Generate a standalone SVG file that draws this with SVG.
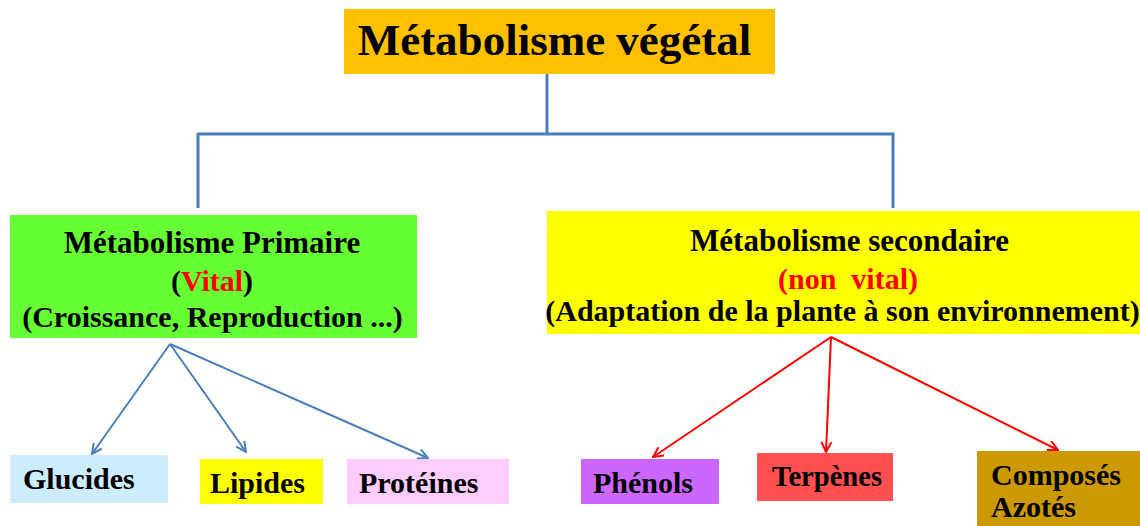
<svg xmlns="http://www.w3.org/2000/svg" width="1140" height="526" viewBox="0 0 1140 526">
<style>
text{font-family:"Liberation Serif","Times New Roman",serif;font-weight:bold;fill:#000}
.t{font-size:45px}
.h{font-size:31px}
.s{font-size:30px}
.b{font-size:30px}
.red{fill:#FF0000}
.tree{fill:none;stroke:#4A7EBB;stroke-width:3}
.ab{fill:none;stroke:#4A7EBB;stroke-width:2}
.ar{fill:none;stroke:#FF0000;stroke-width:2}
</style>
<defs>
<marker id="mb" viewBox="0 0 12 12" refX="11" refY="6" markerWidth="12" markerHeight="12" markerUnits="userSpaceOnUse" orient="auto">
<path d="M1,1 L11,6 L1,11" fill="none" stroke="#4A7EBB" stroke-width="2"/>
</marker>
<marker id="mr" viewBox="0 0 12 12" refX="11" refY="6" markerWidth="12" markerHeight="12" markerUnits="userSpaceOnUse" orient="auto">
<path d="M1,1 L11,6 L1,11" fill="none" stroke="#FF0000" stroke-width="2"/>
</marker>
</defs>
<rect width="1140" height="526" fill="#FFFFFF"/>
<g id="connectors">
<path class="tree" d="M547,72 V134 M198,208 V134 H893 V208"/>
<line class="ab" x1="170" y1="344" x2="92" y2="454" marker-end="url(#mb)"/>
<line class="ab" x1="170" y1="344" x2="246" y2="452" marker-end="url(#mb)"/>
<line class="ab" x1="170" y1="344" x2="428" y2="458" marker-end="url(#mb)"/>
<line class="ar" x1="831" y1="337" x2="653" y2="457" marker-end="url(#mr)"/>
<line class="ar" x1="831" y1="337" x2="826" y2="452" marker-end="url(#mr)"/>
<line class="ar" x1="831" y1="337" x2="1058" y2="450" marker-end="url(#mr)"/>
</g>
<g id="n-title">
<rect x="344" y="9" width="431" height="65" fill="#FFC000"/>
<text class="t" x="554.5" y="55" text-anchor="middle">Métabolisme végétal</text>
</g>
<g id="n-primaire">
<rect x="10" y="215" width="407" height="123" fill="#66FF33"/>
<text class="h" x="212" y="253" text-anchor="middle">Métabolisme Primaire</text>
<text class="s" x="212" y="291" text-anchor="middle">(<tspan class="red">Vital</tspan>)</text>
<text class="s" x="212.5" y="327" text-anchor="middle">(Croissance, Reproduction ...)</text>
</g>
<g id="n-secondaire">
<rect x="547" y="211" width="593" height="123" fill="#FFFF00"/>
<text class="h" x="849.5" y="251" text-anchor="middle">Métabolisme secondaire</text>
<text class="s red" x="848" y="289" text-anchor="middle">(non&#160; vital)</text>
<text class="s" x="842.5" y="321" text-anchor="middle">(Adaptation de la plante à son environnement)</text>
</g>
<g id="n-glucides">
<rect x="10" y="455" width="158" height="48" fill="#CCECFF"/>
<text class="b" x="23" y="489">Glucides</text>
</g>
<g id="n-lipides">
<rect x="200" y="459" width="123" height="45" fill="#FFFF00"/>
<text class="b" x="210" y="493">Lipides</text>
</g>
<g id="n-proteines">
<rect x="347" y="459" width="162" height="45" fill="#FFCCFF"/>
<text class="b" x="359" y="493">Protéines</text>
</g>
<g id="n-phenols">
<rect x="581" y="459" width="138" height="45" fill="#CC66FF"/>
<text class="b" x="593" y="493">Phénols</text>
</g>
<g id="n-terpenes">
<rect x="757" y="453" width="136" height="48" fill="#FF5050"/>
<text class="b" x="772" y="486" textLength="110" lengthAdjust="spacingAndGlyphs">Terpènes</text>
</g>
<g id="n-composes">
<rect x="977" y="451" width="163" height="75" fill="#CC9900"/>
<text class="b" x="991" y="485">Composés</text>
<text class="b" x="991" y="517">Azotés</text>
</g>
</svg>
